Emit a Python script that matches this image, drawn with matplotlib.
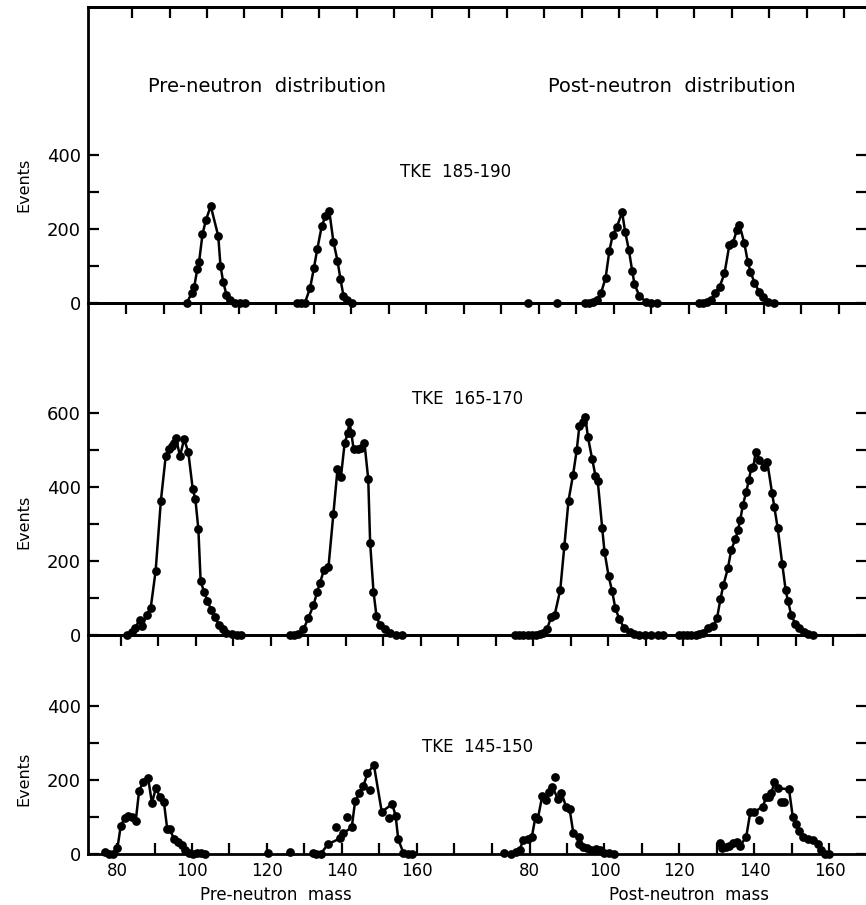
import matplotlib
matplotlib.use("Agg")
import matplotlib.pyplot as plt
import numpy as np

# ---------------- data ----------------
POST_SHIFT = 110  # post-neutron spectra are drawn shifted right on the shared mass axis

# TKE 185-190
t_pre_light_x = [98.6, 99.9, 100.6, 101.4, 101.9, 102.8, 103.7, 105.0, 107.0, 107.6, 108.3, 109.2, 110.1, 111.5, 112.8, 114.1]
t_pre_light_y = [0, 26, 44, 91, 112, 186, 224, 262, 181, 100, 58, 22, 8, 0, 0, 0]
t_pre_heavy_x = [127.9, 129.1, 130.1, 131.5, 132.5, 133.4, 134.6, 135.6, 136.6, 137.7, 138.8, 139.6, 140.4, 141.3, 142.6]
t_pre_heavy_y = [0, 0, 0, 41, 94, 145, 208, 235, 249, 166, 114, 64, 19, 8, 0]
t_post_dots_x = [79.7, 87.4]
t_post_dots_y = [0, 0]
t_post_light_x = [94.7, 95.8, 96.9, 97.9, 99.1, 100.3, 101.3, 102.2, 103.3, 104.7, 105.5, 106.5, 107.4, 108.0, 109.3, 111.1, 112.4, 113.9]
t_post_light_y = [0, 0, 3, 8, 28, 68, 141, 184, 206, 245, 193, 143, 86, 51, 19, 3, 0, 0]
t_post_heavy_x = [125.2, 126.2, 127.3, 128.4, 129.6, 130.7, 132.0, 133.3, 134.2, 135.3, 136.0, 137.3, 138.2, 138.9, 140.0, 141.2, 142.2, 143.6, 145.1]
t_post_heavy_y = [0, 0, 3, 8, 28, 44, 80, 157, 161, 197, 211, 161, 112, 85, 55, 31, 17, 4, 0]

# TKE 165-170
m_pre_light_x = [82.7, 83.9, 84.8, 86.0, 86.8, 87.9, 89.0, 90.3, 91.7, 93.0, 93.9, 94.6, 95.2, 95.7, 96.8, 97.9,
                 99.0, 100.2, 100.9, 101.7, 102.3, 103.2, 104.1, 105.1, 106.1, 107.2, 108.2, 109.2, 110.6, 111.9, 113.2]
m_pre_light_y = [0, 9, 18, 41, 24, 54, 74, 173, 363, 484, 502, 511, 518, 533, 484, 529,
                 495, 394, 367, 286, 146, 117, 93, 68, 48, 27, 15, 6, 2, 0, 0]
m_pre_heavy_x = [126.1, 127.2, 128.4, 129.7, 131.0, 132.4, 133.4, 134.1, 135.2, 136.4, 137.7, 138.8, 139.7, 140.7, 141.5,
                 142.0, 142.5, 143.1, 144.2, 145.2, 146.0, 147.0, 147.5, 148.4, 149.2, 150.1, 151.5, 152.8, 154.4, 155.9]
m_pre_heavy_y = [0, 0, 4, 15, 45, 81, 117, 140, 176, 185, 327, 448, 426, 518, 545,
                 576, 545, 502, 502, 505, 518, 421, 250, 117, 51, 27, 15, 6, 0, 0]
m_post_light_x = [76.0, 77.2, 78.2, 79.6, 80.7, 81.8, 82.7, 83.7, 84.6, 85.8, 86.7, 88.2, 89.3, 90.4, 91.6, 92.6, 93.3,
                  94.2, 94.9, 95.6, 96.7, 97.6, 98.2, 99.4, 100.0, 101.1, 102.0, 102.9, 104.0, 105.3, 106.7, 108.0,
                  109.3, 110.7, 112.5, 114.2, 115.7]
m_post_light_y = [0, 0, 0, 0, 0, 0, 2, 6, 15, 48, 54, 122, 241, 363, 432, 500, 565,
                  576, 588, 534, 476, 430, 416, 288, 225, 159, 120, 72, 42, 18, 9, 3,
                  0, 0, 0, 0, 0]
m_post_heavy_x = [119.8, 120.9, 122.1, 123.1, 124.3, 125.3, 126.4, 127.6, 128.9, 130.0, 130.9, 131.7, 132.9, 133.8,
                  134.9, 135.6, 136.2, 136.9, 137.8, 138.5, 139.1, 139.7, 140.3, 141.3, 142.5, 143.4, 144.7, 145.3,
                  146.2, 147.4, 148.3, 148.9, 149.8, 150.9, 152.0, 153.1, 154.2, 155.6]
m_post_heavy_y = [0, 0, 0, 0, 0, 3, 6, 18, 24, 45, 96, 135, 180, 230,
                  259, 284, 311, 351, 387, 419, 450, 453, 495, 473, 453, 468, 383, 345,
                  288, 192, 122, 93, 54, 30, 18, 9, 3, 0]

# TKE 145-150  (curve flags: 1 = the drawn curve passes through the point)
b_pre_light_x = [76.8, 77.9, 79.0, 80.1, 81.0, 82.0, 83.0, 83.9, 85.0, 85.9, 87.0, 88.3, 89.3, 90.4, 91.5,
                 92.5, 93.4, 94.1, 95.2, 96.3, 97.2, 98.1, 99.3, 100.2, 101.2, 102.3, 103.5]
b_pre_light_y = [6, 0, 0, 15, 76, 96, 103, 101, 90, 171, 195, 205, 139, 178, 153,
                 141, 67, 67, 40, 33, 24, 11, 2, 0, 4, 2, 0]
b_pre_light_on = [1] * 27
b_pre_dots_x = [120.3, 126.1]
b_pre_dots_y = [4, 6]
b_pre_heavy_x = [132.2, 133.2, 134.3, 136.3, 138.4, 139.5, 140.3, 141.4, 142.6, 143.5, 144.6, 145.7, 146.8, 147.5,
                 148.5, 150.6, 152.6, 153.4, 154.3, 155.0, 156.4, 157.7, 158.6]
b_pre_heavy_y = [2, 0, 0, 27, 72, 42, 56, 99, 72, 143, 164, 184, 218, 173,
                 241, 114, 96, 135, 103, 40, 2, 0, 0]
b_pre_heavy_on = [1, 1, 1, 1, 0, 1, 1, 0, 1, 1, 1, 1, 1, 0,
                  1, 1, 0, 1, 1, 1, 1, 1, 1]
b_post_light_x = [73.3, 75.1, 76.3, 77.5, 78.2, 79.6, 80.6, 81.6, 82.2, 83.4, 84.3, 85.3, 86.1, 86.7, 87.6,
                  88.5, 89.8, 90.7, 91.7, 93.1, 93.3, 94.2, 95.3, 96.5, 97.8, 98.9, 100.0, 101.2, 102.4]
b_post_light_y = [2, 0, 6, 11, 38, 40, 45, 101, 94, 157, 146, 168, 182, 209, 148,
                  166, 126, 121, 56, 26, 47, 20, 15, 11, 13, 11, 2, 2, 0]
b_post_light_on = [1, 1, 1, 1, 1, 1, 1, 1, 1, 1, 1, 1, 1, 0, 1,
                   1, 1, 1, 1, 0, 1, 1, 1, 1, 1, 1, 1, 1, 1]
b_post_heavy_x = [130.7, 131.4, 132.5, 133.3, 134.2, 135.3, 136.2, 137.8, 138.9, 140.0, 141.2, 142.2, 143.1, 144.0,
                  144.5, 145.3, 146.2, 147.1, 148.0, 149.2, 150.2, 151.1, 152.0, 152.9, 154.2, 155.6, 156.9, 157.8,
                  158.7, 160.0]
b_post_heavy_y = [29, 15, 18, 22, 29, 33, 22, 47, 114, 114, 92, 128, 153, 153,
                  164, 195, 178, 140, 140, 175, 101, 81, 63, 45, 40, 38, 27, 11,
                  0, 0]
b_post_heavy_on = [1, 1, 1, 1, 1, 1, 1, 1, 1, 1, 0, 1, 1, 1,
                   1, 1, 1, 0, 0, 1, 1, 1, 1, 1, 1, 1, 1, 1,
                   1, 1]

panel_titles = ["TKE  185-190", "TKE  165-170", "TKE  145-150"]
mass_tick_labels = ["80", "100", "120", "140", "160"]

# ---------------- figure ----------------
W, H = 866, 905
fig = plt.figure(figsize=(W / 100, H / 100), dpi=100)
FONT = "DejaVu Sans"
plt.rcParams["font.family"] = FONT

PX_PER_UNIT_X = 3.75
PX_X80 = 117          # pixel of pre-neutron mass 80
PX_PER_EVENT = 0.37
LEFT_PX, RIGHT_PX = 88, 867
MS = 6.3
LW = 1.8


def px_to_mass(px):
    return 80 + (px - PX_X80) / PX_PER_UNIT_X


def add_panel(top_px, bottom_px):
    ax = fig.add_axes([LEFT_PX / W, 1 - bottom_px / H, (RIGHT_PX - LEFT_PX) / W, (bottom_px - top_px) / H])
    ax.set_xlim(px_to_mass(LEFT_PX), px_to_mass(RIGHT_PX))
    ax.set_ylim(0, (bottom_px - top_px) / PX_PER_EVENT)
    ax.patch.set_visible(False)
    for s in ax.spines.values():
        s.set_linewidth(2.0)
    ax.spines["right"].set_visible(False)
    return ax


ax_t = add_panel(7, 303)
ax_m = add_panel(303, 635)
ax_b = add_panel(635, 854)


def draw(ax, x, y, on=None, shift=0):
    x = np.asarray(x, float) + shift
    y = np.asarray(y, float)
    if on is None:
        on = np.ones(len(x), bool)
    on = np.asarray(on, bool)
    ax.plot(x[on], y[on], "-", color="black", lw=LW, clip_on=False, zorder=3)
    ax.plot(x, y, "o", color="black", ms=MS, mew=0, clip_on=False, zorder=4)


def dots(ax, x, y, shift=0):
    ax.plot(np.asarray(x, float) + shift, y, "o", color="black", ms=MS, mew=0, clip_on=False, zorder=4)


draw(ax_t, t_pre_light_x, t_pre_light_y)
draw(ax_t, t_pre_heavy_x, t_pre_heavy_y)
dots(ax_t, t_post_dots_x, t_post_dots_y, POST_SHIFT)
draw(ax_t, t_post_light_x, t_post_light_y, shift=POST_SHIFT)
draw(ax_t, t_post_heavy_x, t_post_heavy_y, shift=POST_SHIFT)

draw(ax_m, m_pre_light_x, m_pre_light_y)
draw(ax_m, m_pre_heavy_x, m_pre_heavy_y)
draw(ax_m, m_post_light_x, m_post_light_y, shift=POST_SHIFT)
draw(ax_m, m_post_heavy_x, m_post_heavy_y, shift=POST_SHIFT)

draw(ax_b, b_pre_light_x, b_pre_light_y, b_pre_light_on)
dots(ax_b, b_pre_dots_x, b_pre_dots_y)
draw(ax_b, b_pre_heavy_x, b_pre_heavy_y, b_pre_heavy_on)
draw(ax_b, b_post_light_x, b_post_light_y, b_post_light_on, POST_SHIFT)
draw(ax_b, b_post_heavy_x, b_post_heavy_y, b_post_heavy_on, POST_SHIFT)

TICK_LEN = 8
# y axes
for ax, ymax_label in [(ax_t, 400), (ax_m, 600), (ax_b, 400)]:
    ax.set_yticks(np.arange(0, ymax_label + 1, 200))
    ax.set_yticks(np.arange(100, ymax_label, 200), minor=True)
    ax.set_yticklabels([str(v) for v in np.arange(0, ymax_label + 1, 200)], fontsize=13)
    ax.tick_params(axis="y", which="both", direction="in", left=True, right=True,
                   length=TICK_LEN, width=1.6, pad=5)

# x ticks: top of each panel (inward), bottom only for lowest panel
for ax, start in [(ax_t, 84), (ax_m, 82.5), (ax_b, 81)]:
    sec = ax.secondary_xaxis("top")
    sec.set_xticks(np.arange(start, 276, 10))
    sec.tick_params(direction="in", length=TICK_LEN, width=1.6, labeltop=False)
    sec.spines["top"].set_linewidth(2.0)

for ax in (ax_t, ax_m):
    ax.set_xticks([])

ax_b.set_xticks(np.arange(80, 271, 10), minor=True)
major_pos = [80, 100, 120, 140, 160] + [v + POST_SHIFT for v in (80, 100, 120, 140, 160)]
ax_b.set_xticks(major_pos)
ax_b.set_xticklabels(mass_tick_labels + mass_tick_labels, fontsize=12)
ax_b.tick_params(axis="x", which="both", direction="in", length=TICK_LEN, width=1.6, pad=6)


def ftext(xp, yp, s, **kw):
    fig.text(xp / W, 1 - yp / H, s, **kw)


ftext(148, 87, "Pre-neutron  distribution", fontsize=14, ha="left", va="center")
ftext(548, 87, "Post-neutron  distribution", fontsize=14, ha="left", va="center")
ftext(400, 172, panel_titles[0], fontsize=12, ha="left", va="center")
ftext(412, 399, panel_titles[1], fontsize=12, ha="left", va="center")
ftext(422, 747, panel_titles[2], fontsize=12, ha="left", va="center")
for yp in (185, 522, 779):
    ftext(24, yp, "Events", fontsize=11.5, rotation=90, ha="center", va="center")
ftext(276, 895, "Pre-neutron  mass", fontsize=12, ha="center", va="center")
ftext(689, 895, "Post-neutron  mass", fontsize=12, ha="center", va="center")

fig.savefig("out.png", dpi=100)
